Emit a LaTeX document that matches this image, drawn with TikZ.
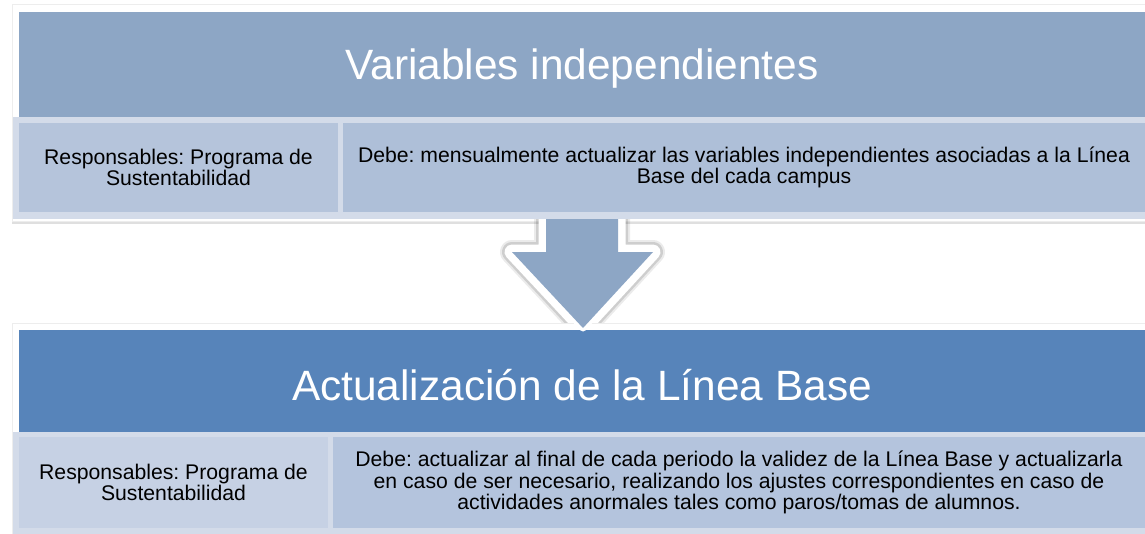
\documentclass[tikz,border=0pt]{standalone}
\usepackage{fontspec}
\setmainfont{Liberation Sans}
\usetikzlibrary{shadows}
\definecolor{hdrA}{HTML}{8DA6C5}
\definecolor{hdrB}{HTML}{5784BA}
\definecolor{bandcol}{HTML}{D3DBE9}
\definecolor{cellAL}{HTML}{B5C4DB}
\definecolor{cellAR}{HTML}{AEBFD8}
\definecolor{cellBL}{HTML}{C6D1E4}
\definecolor{cellBR}{HTML}{B4C4DD}
\definecolor{arrowcol}{HTML}{8DA6C5}
\tikzset{
  box/.style={rectangle, inner sep=0pt, outer sep=0pt, draw=none},
  frame/.style={box, fill=white, draw=black!7, line width=1,
    drop shadow={shadow xshift=0pt, shadow yshift=-2.5pt, opacity=0.25}},
  title/.style={inner sep=0pt, text=white, font=\fontsize{42.4}{48}\selectfont},
  cell/.style={box, text=black, align=center, font=\fontsize{21.2}{21.5}\selectfont},
}
\begin{document}
\frenchspacing
\begin{tikzpicture}[x=1pt,y=-1pt]
\useasboundingbox (0,0) rectangle (1145,533);
\clip (0,0) rectangle (1145,533);

% ---------- top block ----------
\node[frame, minimum width=1146, minimum height=217] (f1) at (585,112.5) {};
\node[box, fill=hdrA, minimum width=1126, minimum height=105] (h1) at (582,64.5) {};
\node[title] (t1) at (582,69) {Variables independientes};

% arrow outline (drawn beneath the top table row)
\coordinate (a1) at (546,219);
\coordinate (a2) at (546,252);
\coordinate (a3) at (512,252);
\coordinate (a4) at (583,328);
\coordinate (a5) at (653,252);
\coordinate (a6) at (618,252);
\coordinate (a7) at (618,219);
\draw[black, opacity=0.08, line width=24, line join=round, shift={(1.5,3.5)}]
  (a1) -- (a2) -- (a3) -- (a4) -- (a5) -- (a6) -- (a7);
\draw[black, opacity=0.12, line width=20, line join=round, shift={(1,3)}]
  (a1) -- (a2) -- (a3) -- (a4) -- (a5) -- (a6) -- (a7);
\draw[white, fill=white, line width=15, line join=round]
  (a1) -- (a2) -- (a3) -- (a4) -- (a5) -- (a6) -- (a7) -- cycle;

\node[box, fill=bandcol, minimum width=1139, minimum height=102] (r1) at (582.5,168) {};
\node[cell, fill=cellAL, minimum width=319, minimum height=89] (c1l) at (178.5,167.5)
  {Responsables: Programa de\\Sustentabilidad};
\node[cell, fill=cellAR, minimum width=802, minimum height=89] (c1r) at (744,167.5)
  {Debe: mensualmente actualizar las variables independientes asociadas a la Línea\\Base del cada campus};

% ---------- bottom block ----------
\node[frame, minimum width=1146, minimum height=225] (f2) at (585,435.5) {};
\node[box, fill=hdrB, minimum width=1126, minimum height=102] (h2) at (582,381) {};
\node[title] (t2) at (582,385.5) {Actualización de la Línea Base};
\node[box, fill=bandcol, minimum width=1139, minimum height=110] (r2) at (582.5,487) {};
\node[cell, fill=cellBL, minimum width=309, minimum height=91] (c2l) at (173.5,482.5)
  {Responsables: Programa de\\Sustentabilidad};
\node[cell, fill=cellBR, minimum width=812, minimum height=91] (c2r) at (739,482.5)
  {Debe: actualizar al final de cada periodo la validez de la Línea Base y actualizarla\\en caso de ser necesario, realizando los ajustes correspondientes en caso de\\actividades anormales tales como paros/tomas de alumnos.};

% ---------- arrow fill ----------
\draw[white, line width=7, line join=round]
  (a2) -- (a3) -- (a4) -- (a5) -- (a6);
\fill[arrowcol] (a1) -- (a2) -- (a3) -- (a4) -- (a5) -- (a6) -- (a7) -- cycle;
\end{tikzpicture}
\end{document}
